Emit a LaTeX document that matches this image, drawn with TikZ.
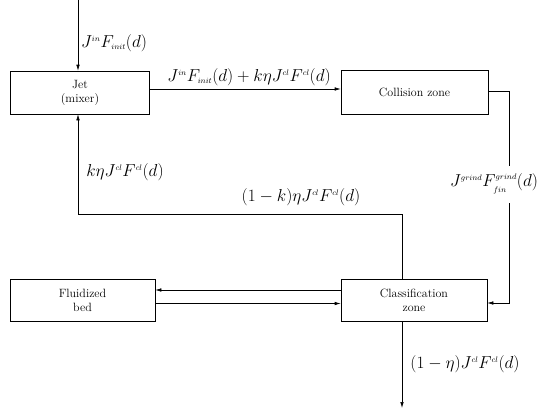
\documentclass[tikz,border=0pt]{standalone}
\usepackage{amsmath}
\usetikzlibrary{arrows.meta}
% small indices, as in the flow formulas
\newcommand{\ix}[1]{{\scriptscriptstyle #1}}
\begin{document}
\begin{tikzpicture}[x=1pt,y=-1pt,
  box/.style={draw,line width=0.6pt,rectangle,inner sep=0pt,align=center,
    font=\fontsize{12}{14}\selectfont},
  flow/.style={line width=0.6pt},
  arr/.style={flow,-{Latex[length=6pt,width=3.5pt]}},
  lab/.style={inner sep=0pt,font=\fontsize{16}{18}\selectfont}]
\useasboundingbox (0,0) rectangle (541,410);

% process blocks
\node[box,minimum width=139pt,minimum height=43pt] (jet) at (80,92.5) {Jet\\(mixer)};
\node[box,minimum width=147pt,minimum height=44pt] (coll) at (414.5,92) {Collision zone};
\node[box,minimum width=145pt,minimum height=42pt] (fluid) at (82.5,300) {Fluidized\\bed};
\node[box,minimum width=146pt,minimum height=42pt] (cls) at (414,300) {Classification\\zone};

% helper points
\coordinate (feed) at (78,0);
\coordinate (out) at (402,408);
\coordinate (gtop) at (509,166);
\coordinate (gbot) at (509,203);
\coordinate (rcorner) at (402,214);
\coordinate (lcorner) at (78,214);

% flow labels
\node[lab] (lin) at (114,43) {$J^{\ix{in}}F_{\ix{init}}(d)$};
\node[lab] (lsum) at (249,77) {$J^{\ix{in}}F_{\ix{init}}(d)+k\eta J^{\ix{cl}}F^{\ix{cl}}(d)$};
\node[lab] (lgr) at (494,184) {$J^{\ix{grind}}F^{\raisebox{1pt}{$\ix{grind}$}}_{\raisebox{-1.5pt}{$\ix{fin}$}}(d)$};
\node[lab] (lrec) at (125,172) {$k\eta J^{\ix{cl}}F^{\ix{cl}}(d)$};
\node[lab] (lrest) at (301,197) {$(1-k)\eta J^{\ix{cl}}F^{\ix{cl}}(d)$};
\node[lab] (lout) at (465,364) {$(1-\eta)J^{\ix{cl}}F^{\ix{cl}}(d)$};

% connectors
\draw[arr] (feed) -- (feed |- jet.north);
\draw[arr] (jet.east |- 0,89) -- (coll.west |- 0,89);
\draw[flow] (coll.east |- 0,91) -| (gtop);
\draw[arr] (gbot) |- (cls.east |- 0,303);
\draw[arr] (cls.north -| rcorner) -- (rcorner) -- (lcorner) -- (lcorner |- jet.south);
\draw[arr] (cls.west |- 0,290) -- (fluid.east |- 0,290);
\draw[arr] (fluid.east |- 0,303.5) -- (cls.west |- 0,303.5);
\draw[arr] (cls.south -| out) -- (out);
\end{tikzpicture}
\end{document}
